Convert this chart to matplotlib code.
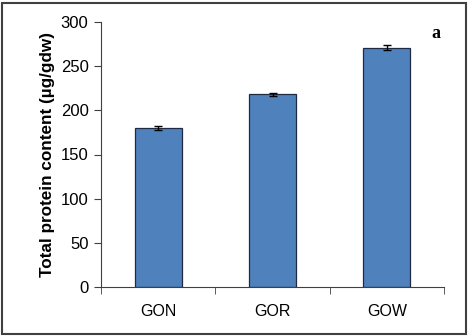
import matplotlib
matplotlib.use("Agg")
import matplotlib.pyplot as plt
from matplotlib.patches import Rectangle

categories = ["GON", "GOR", "GOW"]
values = [180, 218, 271]
errors = [2, 2, 3]
yticks = [0, 50, 100, 150, 200, 250, 300]

fig = plt.figure(figsize=(4.68, 3.36), dpi=100)
ax = fig.add_axes([101/468, 1-287/336, (444-101)/468, (287-22)/336])

x = list(range(len(categories)))
ax.bar(x, values, width=0.41, color="#4F81BD", edgecolor="#1F2A44", linewidth=0.9,
       yerr=errors, capsize=3, error_kw=dict(ecolor="black", elinewidth=1, capthick=1))
ax.set_xlim(-0.5, len(categories) - 0.5)
ax.set_ylim(0, 300)
ax.set_yticks(yticks)
ax.set_yticklabels([str(t) for t in yticks], fontsize=12, family="Liberation Sans")
ax.set_xticks(x)
ax.set_xticklabels(categories, fontsize=11.5, family="Liberation Sans")
ax.tick_params(axis="x", length=0, pad=12)
ax.set_xticks([-0.5, 0.5, 1.5, 2.5], minor=True)
ax.tick_params(axis="x", which="minor", length=5, direction="out", color="#404040")
ax.tick_params(axis="y", length=5, direction="out", color="#404040", pad=4)
for s in ["top", "right"]:
    ax.spines[s].set_visible(False)
for s in ["left", "bottom"]:
    ax.spines[s].set_color("#404040")
ax.set_ylabel("Total protein content (µg/gdw)", fontsize=12.3, fontweight="bold",
              family="Liberation Sans", labelpad=4)
fig.text(436/468, 1-33/336, "a", fontsize=13, fontweight="bold", family="Liberation Serif",
         ha="center", va="center")
fig.patches.append(Rectangle((2/468, 2/336), 1-4/468, 1-5/336, transform=fig.transFigure,
                             fill=False, edgecolor="#404040", linewidth=1.5))
fig.savefig("out.png", dpi=100)
